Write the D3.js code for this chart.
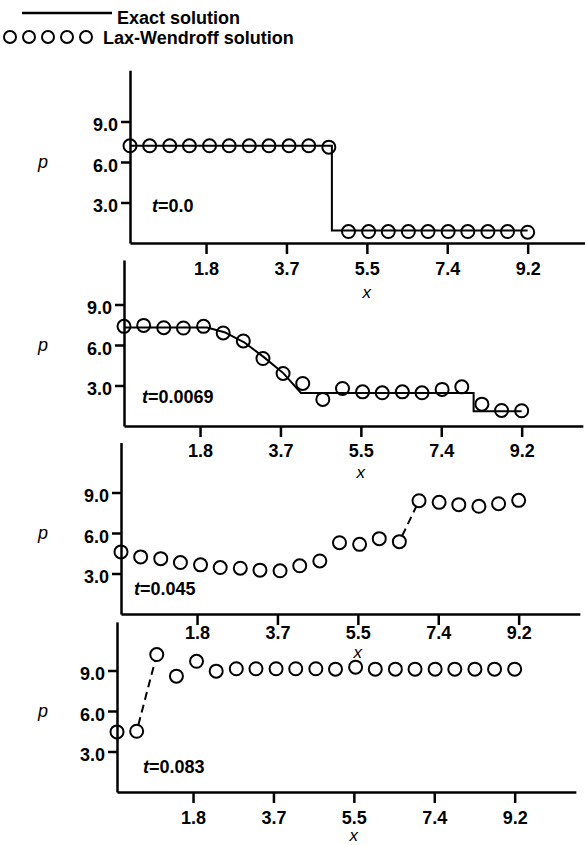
<!DOCTYPE html>
<html>
<head>
<meta charset="utf-8">
<script src="https://cdn.jsdelivr.net/npm/d3@7"></script>
<style>
  body { margin: 0; background: #fff; }
  svg text { font-family: "Liberation Sans", Arial, sans-serif; }
</style>
</head>
<body>
<div id="chart"></div>
<script>
// grid points (x) shared by all four snapshots
const xGrid = [0.1, 0.55, 1.01, 1.46, 1.92, 2.37, 2.83, 3.28, 3.74, 4.19, 4.65,
               5.1, 5.56, 6.01, 6.47, 6.92, 7.38, 7.83, 8.29, 8.74, 9.2];
const xTicks = [1.84, 3.68, 5.52, 7.36, 9.2];
const yTicks = [3, 6, 9];
const times = ["0.0", "0.0069", "0.045", "0.083"];

// Lax-Wendroff density values
const lw0 = [7.2, 7.2, 7.2, 7.2, 7.2, 7.2, 7.2, 7.2, 7.2, 7.2, 7.1,
             0.85, 0.85, 0.85, 0.85, 0.85, 0.85, 0.85, 0.85, 0.85, 0.8];
const lw1 = [7.38, 7.45, 7.28, 7.26, 7.38, 6.89, 6.3, 5.0, 3.89, 3.15, 1.97,
             2.78, 2.53, 2.46, 2.53, 2.46, 2.71, 2.9, 1.62, 1.15, 1.13];
const lw2 = [4.6, 4.23, 4.1, 3.81, 3.64, 3.44, 3.39, 3.25, 3.2, 3.57, 3.93,
             5.28, 5.16, 5.58, 5.36, 8.39, 8.27, 8.1, 7.98, 8.17, 8.42];
const lw3 = [4.45, 4.5, 10.18, 8.58, 9.68, 8.95, 9.13, 9.13, 9.13, 9.13, 9.13,
             9.1, 9.25, 9.1, 9.1, 9.1, 9.1, 9.1, 9.1, 9.1, 9.1];

// exact solution (only drawn for the first two times)
const exact0X = [0.1, 4.72, 4.72, 9.2];
const exact0Y = [7.2, 7.2, 0.92, 0.92];
const exact1X = [0.1, 2.0, 2.4, 2.85, 3.3, 3.75, 4.15, 8.1, 8.1, 9.2];
const exact1Y = [7.3, 7.3, 6.95, 6.2, 5.1, 3.9, 2.45, 2.45, 1.1, 1.1];

// dashed connectors (index pairs) in the later panels
const dashed2 = [14, 15];
const dashed3 = [1, 2];

const series = [lw0, lw1, lw2, lw3];
const exacts = [[exact0X, exact0Y], [exact1X, exact1Y], null, null];
const dashes = [null, null, dashed2, dashed3];

// layout of each panel (pixels)
const base = [243, 426, 614, 792];
const axisX = [130, 124, 121, 117];
const yMax = [12.8, 12.3, 12.7, 12.6];
const labelPad = [8, 7, 1, 8];
const xLabelGap = [55, 52, 44, 49];
const tPos = [[152, 212], [142, 403], [134, 595], [143, 773]];

const width = 585, height = 845;
const pxPerX = 43.7, pxPerY = 13.5;
const r = 6.5;

const svg = d3.select('#chart').append('svg')
    .attr('width', width)
    .attr('height', height);

// legend
const legend = svg.append('g');
legend.append('line')
    .attr('x1', 22).attr('x2', 112)
    .attr('y1', 13).attr('y2', 13)
    .attr('stroke', '#000').attr('stroke-width', 2.5);
legend.append('text')
    .attr('x', 117).attr('y', 24)
    .style('font-size', '18px').style('font-weight', 'bold')
    .text('Exact solution');
legend.selectAll('circle')
    .data([0, 1, 2, 3, 4])
    .join('circle')
    .attr('cx', d => 10 + d * 19)
    .attr('cy', 37)
    .attr('r', 6)
    .attr('fill', 'none')
    .attr('stroke', '#000')
    .attr('stroke-width', 2);
legend.append('text')
    .attr('x', 103).attr('y', 44)
    .style('font-size', '18px').style('font-weight', 'bold')
    .text('Lax-Wendroff solution');

series.forEach((vals, i) => {
    const g = svg.append('g');

    const x = d3.scaleLinear()
        .domain([0.1, 10.6])
        .range([axisX[i], axisX[i] + 10.5 * pxPerX]);
    const y = d3.scaleLinear()
        .domain([0, yMax[i]])
        .range([base[i], base[i] - yMax[i] * pxPerY]);

    const xAxis = g.append('g')
        .attr('transform', `translate(0, ${base[i]})`)
        .call(d3.axisBottom(x)
            .tickValues(xTicks)
            .tickFormat(d3.format('.1f'))
            .tickSize(11)
            .tickSizeOuter(0)
            .tickPadding(labelPad[i]));

    const yAxis = g.append('g')
        .attr('transform', `translate(${axisX[i]}, 0)`)
        .call(d3.axisLeft(y)
            .tickValues(yTicks)
            .tickFormat(d3.format('.1f'))
            .tickSize(9)
            .tickSizeOuter(0)
            .tickPadding(3));

    [xAxis, yAxis].forEach(ax => {
        ax.select('.domain').attr('stroke-width', 2.5);
        ax.selectAll('.tick line').attr('stroke-width', 2.5);
        ax.selectAll('.tick text')
            .attr('fill', '#000')
            .style('font-size', '18px')
            .style('font-weight', 'bold');
    });
    yAxis.selectAll('.tick text').attr('dy', '0.5em');

    // axis titles
    g.append('text')
        .attr('x', 38).attr('y', y(6) + 6)
        .style('font-size', '18px').style('font-style', 'italic')
        .text('p');
    g.append('text')
        .attr('x', x(5.52)).attr('y', base[i] + xLabelGap[i])
        .attr('text-anchor', 'middle')
        .style('font-size', '17px').style('font-style', 'italic')
        .text('x');

    // time label
    const tl = g.append('text')
        .attr('x', tPos[i][0]).attr('y', tPos[i][1])
        .style('font-size', '18px').style('font-weight', 'bold');
    tl.append('tspan').style('font-style', 'italic').text('t');
    tl.append('tspan').text('=' + times[i]);

    // exact solution line
    if (exacts[i]) {
        const [ex, ey] = exacts[i];
        const pts = ex.map((d, k) => [d, ey[k]]);
        g.append('path')
            .datum(pts)
            .attr('d', d3.line().x(d => x(d[0])).y(d => y(d[1])))
            .attr('fill', 'none')
            .attr('stroke', '#000')
            .attr('stroke-width', 2);
    }

    // dashed connector between two circles
    if (dashes[i]) {
        const [a, b] = dashes[i];
        const x1 = x(xGrid[a]), y1 = y(vals[a]);
        const x2 = x(xGrid[b]), y2 = y(vals[b]);
        const len = Math.hypot(x2 - x1, y2 - y1);
        const ux = (x2 - x1) / len, uy = (y2 - y1) / len;
        g.append('line')
            .attr('x1', x1 + ux * r).attr('y1', y1 + uy * r)
            .attr('x2', x2 - ux * r).attr('y2', y2 - uy * r)
            .attr('stroke', '#000')
            .attr('stroke-width', 2)
            .attr('stroke-dasharray', '8,5');
    }

    g.selectAll('circle.pt')
        .data(vals)
        .join('circle')
        .attr('class', 'pt')
        .attr('cx', (d, k) => x(xGrid[k]))
        .attr('cy', d => y(d))
        .attr('r', r)
        .attr('fill', 'none')
        .attr('stroke', '#000')
        .attr('stroke-width', 2);
});
</script>
</body>
</html>
